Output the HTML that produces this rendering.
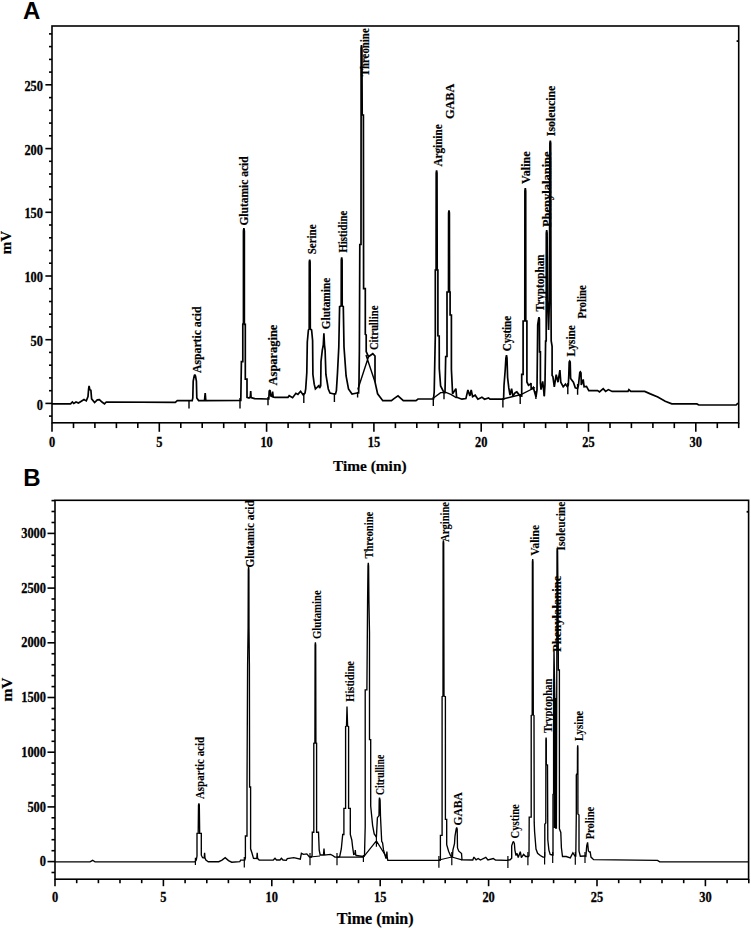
<!DOCTYPE html>
<html><head><meta charset="utf-8"><title>Chromatograms</title>
<style>
html,body{margin:0;padding:0;background:#fff;}
body{width:751px;height:928px;overflow:hidden;font-family:"Liberation Sans",sans-serif;}
svg{display:block;}
</style></head>
<body>
<svg width="751" height="928" viewBox="0 0 751 928">
<rect x="0" y="0" width="751" height="928" fill="#fff"/>
<g stroke="#000" fill="none" stroke-linecap="butt">
<rect x="52" y="26" width="686.7" height="396.8" fill="none" stroke-width="1.6"/>
<line x1="49" y1="416.1" x2="52" y2="416.1" stroke-width="1.6"/>
<line x1="45.4" y1="403.4" x2="52" y2="403.4" stroke-width="1.6"/>
<line x1="49" y1="390.7" x2="52" y2="390.7" stroke-width="1.6"/>
<line x1="49" y1="377.9" x2="52" y2="377.9" stroke-width="1.6"/>
<line x1="49" y1="365.2" x2="52" y2="365.2" stroke-width="1.6"/>
<line x1="49" y1="352.4" x2="52" y2="352.4" stroke-width="1.6"/>
<line x1="45.4" y1="339.7" x2="52" y2="339.7" stroke-width="1.6"/>
<line x1="49" y1="326.9" x2="52" y2="326.9" stroke-width="1.6"/>
<line x1="49" y1="314.2" x2="52" y2="314.2" stroke-width="1.6"/>
<line x1="49" y1="301.5" x2="52" y2="301.5" stroke-width="1.6"/>
<line x1="49" y1="288.7" x2="52" y2="288.7" stroke-width="1.6"/>
<line x1="45.4" y1="276" x2="52" y2="276" stroke-width="1.6"/>
<line x1="49" y1="263.2" x2="52" y2="263.2" stroke-width="1.6"/>
<line x1="49" y1="250.5" x2="52" y2="250.5" stroke-width="1.6"/>
<line x1="49" y1="237.8" x2="52" y2="237.8" stroke-width="1.6"/>
<line x1="49" y1="225" x2="52" y2="225" stroke-width="1.6"/>
<line x1="45.4" y1="212.3" x2="52" y2="212.3" stroke-width="1.6"/>
<line x1="49" y1="199.5" x2="52" y2="199.5" stroke-width="1.6"/>
<line x1="49" y1="186.8" x2="52" y2="186.8" stroke-width="1.6"/>
<line x1="49" y1="174" x2="52" y2="174" stroke-width="1.6"/>
<line x1="49" y1="161.3" x2="52" y2="161.3" stroke-width="1.6"/>
<line x1="45.4" y1="148.6" x2="52" y2="148.6" stroke-width="1.6"/>
<line x1="49" y1="135.8" x2="52" y2="135.8" stroke-width="1.6"/>
<line x1="49" y1="123.1" x2="52" y2="123.1" stroke-width="1.6"/>
<line x1="49" y1="110.3" x2="52" y2="110.3" stroke-width="1.6"/>
<line x1="49" y1="97.6" x2="52" y2="97.6" stroke-width="1.6"/>
<line x1="45.4" y1="84.8" x2="52" y2="84.8" stroke-width="1.6"/>
<line x1="49" y1="72.1" x2="52" y2="72.1" stroke-width="1.6"/>
<line x1="49" y1="59.4" x2="52" y2="59.4" stroke-width="1.6"/>
<line x1="49" y1="46.6" x2="52" y2="46.6" stroke-width="1.6"/>
<line x1="49" y1="33.9" x2="52" y2="33.9" stroke-width="1.6"/>
<text x="43" y="409.5" font-size="14" text-anchor="end" fill="#000" stroke="#000" stroke-width="0.3" font-family="'Liberation Serif', serif" font-weight="bold" textLength="6.2" lengthAdjust="spacingAndGlyphs">0</text>
<text x="43" y="345.8" font-size="14" text-anchor="end" fill="#000" stroke="#000" stroke-width="0.3" font-family="'Liberation Serif', serif" font-weight="bold" textLength="12.4" lengthAdjust="spacingAndGlyphs">50</text>
<text x="43" y="282.1" font-size="14" text-anchor="end" fill="#000" stroke="#000" stroke-width="0.3" font-family="'Liberation Serif', serif" font-weight="bold" textLength="18.6" lengthAdjust="spacingAndGlyphs">100</text>
<text x="43" y="218.4" font-size="14" text-anchor="end" fill="#000" stroke="#000" stroke-width="0.3" font-family="'Liberation Serif', serif" font-weight="bold" textLength="18.6" lengthAdjust="spacingAndGlyphs">150</text>
<text x="43" y="154.7" font-size="14" text-anchor="end" fill="#000" stroke="#000" stroke-width="0.3" font-family="'Liberation Serif', serif" font-weight="bold" textLength="18.6" lengthAdjust="spacingAndGlyphs">200</text>
<text x="43" y="90.9" font-size="14" text-anchor="end" fill="#000" stroke="#000" stroke-width="0.3" font-family="'Liberation Serif', serif" font-weight="bold" textLength="18.6" lengthAdjust="spacingAndGlyphs">250</text>
<line x1="52" y1="422.8" x2="52" y2="431.8" stroke-width="1.6"/>
<line x1="73.5" y1="422.8" x2="73.5" y2="428.1" stroke-width="1.6"/>
<line x1="94.9" y1="422.8" x2="94.9" y2="428.1" stroke-width="1.6"/>
<line x1="116.4" y1="422.8" x2="116.4" y2="428.1" stroke-width="1.6"/>
<line x1="137.8" y1="422.8" x2="137.8" y2="428.1" stroke-width="1.6"/>
<line x1="159.3" y1="422.8" x2="159.3" y2="431.8" stroke-width="1.6"/>
<line x1="180.8" y1="422.8" x2="180.8" y2="428.1" stroke-width="1.6"/>
<line x1="202.2" y1="422.8" x2="202.2" y2="428.1" stroke-width="1.6"/>
<line x1="223.7" y1="422.8" x2="223.7" y2="428.1" stroke-width="1.6"/>
<line x1="245.1" y1="422.8" x2="245.1" y2="428.1" stroke-width="1.6"/>
<line x1="266.6" y1="422.8" x2="266.6" y2="431.8" stroke-width="1.6"/>
<line x1="288.1" y1="422.8" x2="288.1" y2="428.1" stroke-width="1.6"/>
<line x1="309.5" y1="422.8" x2="309.5" y2="428.1" stroke-width="1.6"/>
<line x1="331" y1="422.8" x2="331" y2="428.1" stroke-width="1.6"/>
<line x1="352.4" y1="422.8" x2="352.4" y2="428.1" stroke-width="1.6"/>
<line x1="373.9" y1="422.8" x2="373.9" y2="431.8" stroke-width="1.6"/>
<line x1="395.4" y1="422.8" x2="395.4" y2="428.1" stroke-width="1.6"/>
<line x1="416.8" y1="422.8" x2="416.8" y2="428.1" stroke-width="1.6"/>
<line x1="438.3" y1="422.8" x2="438.3" y2="428.1" stroke-width="1.6"/>
<line x1="459.7" y1="422.8" x2="459.7" y2="428.1" stroke-width="1.6"/>
<line x1="481.2" y1="422.8" x2="481.2" y2="431.8" stroke-width="1.6"/>
<line x1="502.7" y1="422.8" x2="502.7" y2="428.1" stroke-width="1.6"/>
<line x1="524.1" y1="422.8" x2="524.1" y2="428.1" stroke-width="1.6"/>
<line x1="545.6" y1="422.8" x2="545.6" y2="428.1" stroke-width="1.6"/>
<line x1="567" y1="422.8" x2="567" y2="428.1" stroke-width="1.6"/>
<line x1="588.5" y1="422.8" x2="588.5" y2="431.8" stroke-width="1.6"/>
<line x1="610" y1="422.8" x2="610" y2="428.1" stroke-width="1.6"/>
<line x1="631.4" y1="422.8" x2="631.4" y2="428.1" stroke-width="1.6"/>
<line x1="652.9" y1="422.8" x2="652.9" y2="428.1" stroke-width="1.6"/>
<line x1="674.3" y1="422.8" x2="674.3" y2="428.1" stroke-width="1.6"/>
<line x1="695.8" y1="422.8" x2="695.8" y2="431.8" stroke-width="1.6"/>
<line x1="717.3" y1="422.8" x2="717.3" y2="428.1" stroke-width="1.6"/>
<line x1="738.7" y1="422.8" x2="738.7" y2="428.1" stroke-width="1.6"/>
<text x="52" y="447" font-size="14" text-anchor="middle" fill="#000" stroke="#000" stroke-width="0.3" font-family="'Liberation Serif', serif" font-weight="bold" textLength="6.2" lengthAdjust="spacingAndGlyphs">0</text>
<text x="159.3" y="447" font-size="14" text-anchor="middle" fill="#000" stroke="#000" stroke-width="0.3" font-family="'Liberation Serif', serif" font-weight="bold" textLength="6.2" lengthAdjust="spacingAndGlyphs">5</text>
<text x="266.6" y="447" font-size="14" text-anchor="middle" fill="#000" stroke="#000" stroke-width="0.3" font-family="'Liberation Serif', serif" font-weight="bold" textLength="12.4" lengthAdjust="spacingAndGlyphs">10</text>
<text x="373.9" y="447" font-size="14" text-anchor="middle" fill="#000" stroke="#000" stroke-width="0.3" font-family="'Liberation Serif', serif" font-weight="bold" textLength="12.4" lengthAdjust="spacingAndGlyphs">15</text>
<text x="481.2" y="447" font-size="14" text-anchor="middle" fill="#000" stroke="#000" stroke-width="0.3" font-family="'Liberation Serif', serif" font-weight="bold" textLength="12.4" lengthAdjust="spacingAndGlyphs">20</text>
<text x="588.5" y="447" font-size="14" text-anchor="middle" fill="#000" stroke="#000" stroke-width="0.3" font-family="'Liberation Serif', serif" font-weight="bold" textLength="12.4" lengthAdjust="spacingAndGlyphs">25</text>
<text x="695.8" y="447" font-size="14" text-anchor="middle" fill="#000" stroke="#000" stroke-width="0.3" font-family="'Liberation Serif', serif" font-weight="bold" textLength="12.4" lengthAdjust="spacingAndGlyphs">30</text>
<rect x="55" y="500.3" width="693.6" height="378.9" fill="none" stroke-width="1.6"/>
<line x1="51.5" y1="872.5" x2="55" y2="872.5" stroke-width="1.6"/>
<line x1="47.5" y1="861.6" x2="55" y2="861.6" stroke-width="1.6"/>
<line x1="51.5" y1="850.7" x2="55" y2="850.7" stroke-width="1.6"/>
<line x1="51.5" y1="839.7" x2="55" y2="839.7" stroke-width="1.6"/>
<line x1="51.5" y1="828.8" x2="55" y2="828.8" stroke-width="1.6"/>
<line x1="51.5" y1="817.8" x2="55" y2="817.8" stroke-width="1.6"/>
<line x1="47.5" y1="806.9" x2="55" y2="806.9" stroke-width="1.6"/>
<line x1="51.5" y1="796" x2="55" y2="796" stroke-width="1.6"/>
<line x1="51.5" y1="785" x2="55" y2="785" stroke-width="1.6"/>
<line x1="51.5" y1="774.1" x2="55" y2="774.1" stroke-width="1.6"/>
<line x1="51.5" y1="763.1" x2="55" y2="763.1" stroke-width="1.6"/>
<line x1="47.5" y1="752.2" x2="55" y2="752.2" stroke-width="1.6"/>
<line x1="51.5" y1="741.3" x2="55" y2="741.3" stroke-width="1.6"/>
<line x1="51.5" y1="730.3" x2="55" y2="730.3" stroke-width="1.6"/>
<line x1="51.5" y1="719.4" x2="55" y2="719.4" stroke-width="1.6"/>
<line x1="51.5" y1="708.4" x2="55" y2="708.4" stroke-width="1.6"/>
<line x1="47.5" y1="697.5" x2="55" y2="697.5" stroke-width="1.6"/>
<line x1="51.5" y1="686.6" x2="55" y2="686.6" stroke-width="1.6"/>
<line x1="51.5" y1="675.6" x2="55" y2="675.6" stroke-width="1.6"/>
<line x1="51.5" y1="664.7" x2="55" y2="664.7" stroke-width="1.6"/>
<line x1="51.5" y1="653.7" x2="55" y2="653.7" stroke-width="1.6"/>
<line x1="47.5" y1="642.8" x2="55" y2="642.8" stroke-width="1.6"/>
<line x1="51.5" y1="631.9" x2="55" y2="631.9" stroke-width="1.6"/>
<line x1="51.5" y1="620.9" x2="55" y2="620.9" stroke-width="1.6"/>
<line x1="51.5" y1="610" x2="55" y2="610" stroke-width="1.6"/>
<line x1="51.5" y1="599" x2="55" y2="599" stroke-width="1.6"/>
<line x1="47.5" y1="588.1" x2="55" y2="588.1" stroke-width="1.6"/>
<line x1="51.5" y1="577.2" x2="55" y2="577.2" stroke-width="1.6"/>
<line x1="51.5" y1="566.2" x2="55" y2="566.2" stroke-width="1.6"/>
<line x1="51.5" y1="555.3" x2="55" y2="555.3" stroke-width="1.6"/>
<line x1="51.5" y1="544.3" x2="55" y2="544.3" stroke-width="1.6"/>
<line x1="47.5" y1="533.4" x2="55" y2="533.4" stroke-width="1.6"/>
<line x1="51.5" y1="522.5" x2="55" y2="522.5" stroke-width="1.6"/>
<line x1="51.5" y1="511.5" x2="55" y2="511.5" stroke-width="1.6"/>
<line x1="51.5" y1="500.6" x2="55" y2="500.6" stroke-width="1.6"/>
<text x="46" y="866.2" font-size="14" text-anchor="end" fill="#000" stroke="#000" stroke-width="0.3" font-family="'Liberation Serif', serif" font-weight="bold" textLength="6.2" lengthAdjust="spacingAndGlyphs">0</text>
<text x="46" y="811.5" font-size="14" text-anchor="end" fill="#000" stroke="#000" stroke-width="0.3" font-family="'Liberation Serif', serif" font-weight="bold" textLength="18.6" lengthAdjust="spacingAndGlyphs">500</text>
<text x="46" y="756.8" font-size="14" text-anchor="end" fill="#000" stroke="#000" stroke-width="0.3" font-family="'Liberation Serif', serif" font-weight="bold" textLength="24.8" lengthAdjust="spacingAndGlyphs">1000</text>
<text x="46" y="702.1" font-size="14" text-anchor="end" fill="#000" stroke="#000" stroke-width="0.3" font-family="'Liberation Serif', serif" font-weight="bold" textLength="24.8" lengthAdjust="spacingAndGlyphs">1500</text>
<text x="46" y="647.4" font-size="14" text-anchor="end" fill="#000" stroke="#000" stroke-width="0.3" font-family="'Liberation Serif', serif" font-weight="bold" textLength="24.8" lengthAdjust="spacingAndGlyphs">2000</text>
<text x="46" y="592.7" font-size="14" text-anchor="end" fill="#000" stroke="#000" stroke-width="0.3" font-family="'Liberation Serif', serif" font-weight="bold" textLength="24.8" lengthAdjust="spacingAndGlyphs">2500</text>
<text x="46" y="538" font-size="14" text-anchor="end" fill="#000" stroke="#000" stroke-width="0.3" font-family="'Liberation Serif', serif" font-weight="bold" textLength="24.8" lengthAdjust="spacingAndGlyphs">3000</text>
<line x1="55" y1="879.2" x2="55" y2="886.2" stroke-width="1.6"/>
<line x1="76.7" y1="879.2" x2="76.7" y2="883.2" stroke-width="1.6"/>
<line x1="98.4" y1="879.2" x2="98.4" y2="883.2" stroke-width="1.6"/>
<line x1="120" y1="879.2" x2="120" y2="883.2" stroke-width="1.6"/>
<line x1="141.7" y1="879.2" x2="141.7" y2="883.2" stroke-width="1.6"/>
<line x1="163.4" y1="879.2" x2="163.4" y2="886.2" stroke-width="1.6"/>
<line x1="185.1" y1="879.2" x2="185.1" y2="883.2" stroke-width="1.6"/>
<line x1="206.8" y1="879.2" x2="206.8" y2="883.2" stroke-width="1.6"/>
<line x1="228.4" y1="879.2" x2="228.4" y2="883.2" stroke-width="1.6"/>
<line x1="250.1" y1="879.2" x2="250.1" y2="883.2" stroke-width="1.6"/>
<line x1="271.8" y1="879.2" x2="271.8" y2="886.2" stroke-width="1.6"/>
<line x1="293.5" y1="879.2" x2="293.5" y2="883.2" stroke-width="1.6"/>
<line x1="315.2" y1="879.2" x2="315.2" y2="883.2" stroke-width="1.6"/>
<line x1="336.8" y1="879.2" x2="336.8" y2="883.2" stroke-width="1.6"/>
<line x1="358.5" y1="879.2" x2="358.5" y2="883.2" stroke-width="1.6"/>
<line x1="380.2" y1="879.2" x2="380.2" y2="886.2" stroke-width="1.6"/>
<line x1="401.9" y1="879.2" x2="401.9" y2="883.2" stroke-width="1.6"/>
<line x1="423.6" y1="879.2" x2="423.6" y2="883.2" stroke-width="1.6"/>
<line x1="445.2" y1="879.2" x2="445.2" y2="883.2" stroke-width="1.6"/>
<line x1="466.9" y1="879.2" x2="466.9" y2="883.2" stroke-width="1.6"/>
<line x1="488.6" y1="879.2" x2="488.6" y2="886.2" stroke-width="1.6"/>
<line x1="510.3" y1="879.2" x2="510.3" y2="883.2" stroke-width="1.6"/>
<line x1="532" y1="879.2" x2="532" y2="883.2" stroke-width="1.6"/>
<line x1="553.6" y1="879.2" x2="553.6" y2="883.2" stroke-width="1.6"/>
<line x1="575.3" y1="879.2" x2="575.3" y2="883.2" stroke-width="1.6"/>
<line x1="597" y1="879.2" x2="597" y2="886.2" stroke-width="1.6"/>
<line x1="618.7" y1="879.2" x2="618.7" y2="883.2" stroke-width="1.6"/>
<line x1="640.4" y1="879.2" x2="640.4" y2="883.2" stroke-width="1.6"/>
<line x1="662" y1="879.2" x2="662" y2="883.2" stroke-width="1.6"/>
<line x1="683.7" y1="879.2" x2="683.7" y2="883.2" stroke-width="1.6"/>
<line x1="705.4" y1="879.2" x2="705.4" y2="886.2" stroke-width="1.6"/>
<line x1="727.1" y1="879.2" x2="727.1" y2="883.2" stroke-width="1.6"/>
<line x1="748.8" y1="879.2" x2="748.8" y2="883.2" stroke-width="1.6"/>
<text x="55" y="902" font-size="14" text-anchor="middle" fill="#000" stroke="#000" stroke-width="0.3" font-family="'Liberation Serif', serif" font-weight="bold" textLength="6.2" lengthAdjust="spacingAndGlyphs">0</text>
<text x="163.4" y="902" font-size="14" text-anchor="middle" fill="#000" stroke="#000" stroke-width="0.3" font-family="'Liberation Serif', serif" font-weight="bold" textLength="6.2" lengthAdjust="spacingAndGlyphs">5</text>
<text x="271.8" y="902" font-size="14" text-anchor="middle" fill="#000" stroke="#000" stroke-width="0.3" font-family="'Liberation Serif', serif" font-weight="bold" textLength="12.4" lengthAdjust="spacingAndGlyphs">10</text>
<text x="380.2" y="902" font-size="14" text-anchor="middle" fill="#000" stroke="#000" stroke-width="0.3" font-family="'Liberation Serif', serif" font-weight="bold" textLength="12.4" lengthAdjust="spacingAndGlyphs">15</text>
<text x="488.6" y="902" font-size="14" text-anchor="middle" fill="#000" stroke="#000" stroke-width="0.3" font-family="'Liberation Serif', serif" font-weight="bold" textLength="12.4" lengthAdjust="spacingAndGlyphs">20</text>
<text x="597" y="902" font-size="14" text-anchor="middle" fill="#000" stroke="#000" stroke-width="0.3" font-family="'Liberation Serif', serif" font-weight="bold" textLength="12.4" lengthAdjust="spacingAndGlyphs">25</text>
<text x="705.4" y="902" font-size="14" text-anchor="middle" fill="#000" stroke="#000" stroke-width="0.3" font-family="'Liberation Serif', serif" font-weight="bold" textLength="12.4" lengthAdjust="spacingAndGlyphs">30</text>
</g>
<path d="M52,403.9 L70.6,403.9 L72.4,402 L73.8,403.5 L76,402 L78.4,403 L81.3,401.2 L84,399.6 L86.3,400.9 L88,396.6 L88.6,389 L89.1,385.8 L89.8,389.7 L90.9,390.2 L91.6,398.8 L94.6,402.5 L97.3,399.8 L99.4,399.6 L102,402 L104.5,403.9 L106.3,402 L175.3,402.3 L177.3,400.6 L192.2,400.6 L192.8,398 L193.2,381 L194.2,376 L194.8,374.6 L195.5,376 L196.4,381 L196.8,398 L198.6,400.6 L204.5,400.6 L205.2,393 L205.8,400.6 L240.8,400.5 L241.4,361.7 L242.8,361.7 L242.8,324.3 L243.45,323 L243.45,231 L243.9,228.2 L244.35,231 L244.35,323 L244.6,324.3 L245.3,324.3 L245.3,379.2 L247,379.2 L247,397.3 L249,398 L250.3,397 L250.7,391 L251.1,397.5 L254.6,398.6 L267.3,399 L268.8,399 L269.2,391 L270,390 L270.8,396 L272,396.5 L272.6,391.6 L273.2,397 L275,397.3 L288,397.3 L289.2,395.7 L292.6,397.7 L295.9,393.3 L297.9,394.4 L300.6,391.3 L303.2,394.9 L305,393 L305.7,389 L306.8,372.8 L307.3,342 L308.4,330 L309.2,329 L309.3,262 L309.7,259.7 L310.1,262 L310.3,329 L311.6,330 L312.6,340.5 L312.9,374.5 L314.2,384.2 L315.4,389 L316.5,388 L318.3,386 L318.8,385.6 L319.6,388 L320.4,386.5 L320.7,385.8 L321,361.5 L322.3,350.2 L323.3,345 L323.9,333.2 L324.5,345 L325.1,350.2 L325.9,374.5 L328.3,389 L330,393 L334,394 L335.5,394 L336.4,390.6 L337.5,372.8 L338.8,347 L339.6,306.6 L341.2,306 L341.3,260 L341.7,257.3 L342.1,260 L342.2,306 L343.3,306.6 L344,347 L346.1,376 L348.5,389 L352,394 L357,393 L358.6,393 L359,382 L359.4,350 L359.8,244.5 L361,244.5 L361.1,115 L361.1,48 L361.5,45 L361.9,48 L362.2,115 L363.4,115 L363.6,288.6 L365.3,288.6 L365.3,334.3 L366.2,335 L366.2,351.6 L368.5,356.7 L372.8,353.7 L375,356 L375,382 L377.6,393.8 L382.8,400.7 L391.4,400.7 L394,398.6 L398,395.9 L403.3,400.6 L416,400.6 L418,399 L433.5,399 L434.2,392 L435.3,335.8 L435.3,270 L436.1,270 L436.2,173 L436.6,170.3 L437,173 L437.2,270 L437.9,270 L437.9,335.8 L439.2,336 L439.3,368.6 L440.6,386 L444,392.6 L445,392.5 L445.7,356.5 L447,356.5 L447,292 L448.5,292 L448.6,213 L449,210.4 L449.4,213 L449.5,292 L450.1,292 L450.1,315 L451.4,315 L451.4,369.3 L452.6,393.9 L455.9,388.6 L456.6,397.2 L461.9,399.2 L465.9,398.6 L467.9,390 L469.9,395.9 L471.2,390 L472.6,396.6 L475.2,395.2 L477.9,399.2 L481.9,397.2 L484.5,399.2 L488.5,397.9 L490,399.1 L503.6,399.1 L504,385.5 L505.2,370 L505.9,358 L506.5,355.2 L507,358 L507.6,377.5 L508.8,387.9 L510,395.1 L511.6,388.7 L512.8,395.9 L515.2,392.7 L516.8,391.9 L520,395.9 L521.7,396 L521.7,374.4 L523.1,374.4 L523.1,321 L524.8,321 L524.9,191 L525.3,188 L525.7,191 L525.8,321 L526.9,321 L526.9,382 L528.5,385.2 L530.6,384 L531,383 L531.2,389.5 L533.3,387.4 L536,397 L537,390 L537.7,324.8 L538.6,319 L539,317.3 L539.4,319 L539.6,351.8 L540.4,351.8 L540.4,383 L541,389.6 L542.7,381.3 L544.3,396.2 L545,384 L545.6,341 L546.2,341 L546.3,233 L546.7,230.2 L547.1,233 L547.5,300 L548.6,330 L549.4,300 L549.9,143 L550.3,140.6 L550.7,143 L551,300 L551.2,341 L552.1,346.4 L552.1,375.5 L552.9,376.6 L554.3,386.8 L556.2,374.7 L558,382.2 L559.9,370.1 L560.8,382.2 L563.2,386.8 L565.5,384.1 L567.2,386.5 L567.8,386 L568.3,385 L568.8,375 L569.2,362 L569.7,361.2 L570.2,362 L570.6,378.5 L573.4,382.2 L575.3,387.8 L577.6,388.5 L578.5,385 L579,380 L579.8,372.5 L580.4,371.9 L581,373 L581.3,385 L583.2,379.4 L584.1,386.8 L586.5,386.4 L588.8,390.6 L597.6,390.6 L599.5,392 L603.2,388.7 L605.6,391.4 L608.4,389.6 L612.1,391.4 L628,391.4 L628.9,389.6 L630.8,391.4 L644.7,391.4 L650.3,393.9 L657.8,397 L665.2,401.3 L671.8,403.9 L696.9,403.9 L698.8,405 L736.1,405 L738,403.2" fill="none" stroke="#000" stroke-width="1.7" stroke-linejoin="miter" stroke-miterlimit="2"/>
<path d="M357.8,389.5 L368.5,356.7 M366,355 L375,382 M433.5,398 L440.6,392.6 L446,392.4 L451.3,394.6 L456.6,397.9 M503,399 L513,396.5 L521,394.6 L535,387.5 M189,400 L189,408.6 M240,398 L240,408.4 M268,397 L268,405.3 M303.8,393 L303.8,403 M334.4,393 L334.4,402 M357.6,392 L357.6,397.5 M433.3,397 L433.3,405.9 M444,392 L444,399.2 M502.9,398 L502.9,407.5 M520.2,394 L520.2,403.9 M535.9,391 L535.9,399 M544.3,388 L544.3,396.2 M567.8,383 L567.8,394.3 M577.6,384 L577.6,394.8" fill="none" stroke="#000" stroke-width="1.4"/>
<path d="M55,861.8 L90,861.8 L92.6,860.3 L95,861.8 L195,861.8 L196.3,860 L197,856 L197,833.4 L198.2,833.4 L198.5,805 L198.9,803.5 L199.3,805 L199.7,833.4 L201.3,833.4 L201.3,855.2 L202.6,857.7 L204.2,858 L204.6,852.8 L205,858 L205.9,860.1 L208.3,861.7 L218.8,861.7 L222,860.1 L225.2,857.7 L228.5,860.6 L231.7,862.2 L239.8,861.7 L240.6,860.1 L244.8,860 L245.4,858 L245.4,836 L247,836 L247,787 L247.6,665 L248.1,628 L248.3,570 L248.6,567 L248.9,570 L249,628 L249.4,665 L249.6,787 L250.6,787 L250.6,848.8 L251.9,852.8 L253.5,858.4 L256.8,858.5 L257.2,852.8 L257.6,858.5 L259.2,860.1 L273.3,860 L275,858.3 L276.5,860 L280,860 L281.4,858.3 L283,860 L286.3,860.4 L287.3,858.7 L293.8,857.6 L300.3,859.2 L301.4,853.3 L303.5,854.4 L306.8,853.9 L309.5,857 L311.5,857 L312.1,855.5 L312.3,832.2 L313.8,832.2 L313.8,743.2 L314.9,743 L315.1,645 L315.4,642.4 L315.7,645 L315.9,743 L316.6,743.2 L316.6,832.2 L318.5,832.2 L319.2,850.1 L320.2,855 L323.5,855 L324,848.5 L324.5,855 L326.2,854.9 L330.5,854.4 L332.7,855.5 L334.9,857.1 L338.5,857.1 L339.7,856.5 L341.3,849 L342.7,834.5 L343.9,834.5 L343.9,808.4 L345.6,808.4 L345.6,726.6 L346.5,726 L347,706.4 L347.6,726 L348.6,726.6 L348.6,808.4 L350.3,808.4 L350.3,834.5 L351.8,840 L352.6,846.8 L353.7,854.4 L355,854 L355.3,850.1 L355.7,855 L356.4,855.5 L363,856.5 L364.2,856 L364.5,855.5 L365.2,826.4 L365.2,689.8 L366.9,689.8 L367.6,600 L368,566 L368.3,562.9 L368.6,566 L368.9,600 L369.5,632.8 L369.5,739.6 L370.7,739.6 L370.7,806 L372.6,825.3 L374.2,833.9 L376.4,837.1 L377.4,817.7 L379,815.6 L379.2,800 L379.5,797.7 L380.1,800 L380.5,816.7 L381.7,841.3 L382.6,843 L383.5,849.9 L386,858.6 L386.5,856.8 L386.9,851.6 L387.3,858 L387.8,860.3 L440.2,860.3 L440.4,858.7 L440.4,835.3 L442.1,835.3 L442.1,696.7 L443,696 L443.1,543 L443.4,540.2 L443.7,543 L444,696 L445.4,696.7 L445.4,819.4 L446.7,819.4 L446.7,844.7 L448.6,851.2 L450.7,856 L452.5,856.5 L452.9,850.1 L454.5,843.6 L455,836.1 L456.2,829 L456.7,827.4 L457.2,829 L457.5,847.9 L458.8,851.2 L461,853 L461.5,853.3 L462,859.8 L472.8,860 L473.9,857.1 L476.1,859.8 L478.2,858.5 L480.4,860 L485.8,857.4 L487.9,860 L493.3,858.5 L495.5,860 L506.9,860.3 L508.4,860 L510.1,859.8 L511.7,858.2 L511.7,845.8 L512.8,842.5 L513.5,841.4 L514.4,843.6 L514.9,850.1 L516,855.5 L517.1,853.3 L518.2,857.6 L520.3,851.7 L521.4,857.6 L523.6,854.4 L525.7,856.5 L528.6,856.5 L529,855.5 L529.2,817.1 L531.2,817.1 L531.2,715.5 L532.2,715 L532.4,562 L532.7,559.1 L533,562 L533.3,715 L534,715.5 L534.2,822.4 L534.6,831.8 L536,849 L537.6,853.3 L540.3,855.5 L543,857.1 L544.6,857 L544.8,855.5 L544.8,824.2 L545.8,823 L545.9,740 L546.1,737.5 L546.3,740 L546.3,764.5 L547.5,765 L547.8,839.7 L548.9,850.1 L550.2,854.4 L552.3,855 L553,855 L553,855 L553,794.4 L553.6,794 L553.6,697 L554,650.3 L554.8,697 L555.6,828 L556.4,828 L556.8,670 L557,551 L557.3,548 L557.6,551 L558,600 L558.4,670 L559.4,670 L559.4,828.8 L560.8,832.4 L561.4,847.8 L562.5,856.5 L566.2,856.5 L570.3,857.9 L572.9,852.8 L575,856 L575.8,856 L576.3,814 L576.3,775 L577.4,773 L577.5,748 L577.7,745.4 L577.9,748 L577.9,814 L579,815 L579,851 L580.3,856.2 L584.5,856 L585.4,856 L585.9,856.2 L586.7,845.9 L587.6,842.4 L588.4,851 L589.5,852 L590.2,851.9 L591,857.1 L593.6,859.7 L657.5,860.4 L659.7,861.9 L748.5,861.9" fill="none" stroke="#000" stroke-width="1.35" stroke-linejoin="miter" stroke-miterlimit="2"/>
<path d="M337,857.1 L363.4,857.1 M363.4,857.1 L376.4,840.9 L386.1,856.5 M438.9,860 L451.8,857 L462,859.8 M310,857 L320,856 M195.4,857.7 L195.4,865 M244.3,857 L244.3,867.4 M310,853 L310,865.2 M337,853 L337,865.2 M363.4,855 L363.4,861.9 M376.4,835 L376.4,846.8 M438.9,856 L438.9,867.7 M451.8,852 L451.8,865.2 M507.9,856 L507.9,867.9 M527.9,852 L527.9,865.2 M544.6,852 L544.6,864.6 M552.7,852 L552.7,863 M575.3,852 L575.3,864.8 M585,852 L585,863.1" fill="none" stroke="#000" stroke-width="1.2"/>
<rect x="553.4" y="698" width="3.6" height="130" fill="#000"/>
<rect x="736.6" y="40.2" width="2" height="1.8" fill="#000"/>
<rect x="746.6" y="510.9" width="2" height="1.8" fill="#000"/>
<g font-family="'Liberation Serif', serif" font-weight="bold" fill="#000" stroke="#000" stroke-width="0.2">
<text transform="translate(201.2,372.9) rotate(-90)" font-size="12" textLength="66.5" lengthAdjust="spacingAndGlyphs">Aspartic acid</text>
<text transform="translate(248.1,225.6) rotate(-90)" font-size="12" textLength="69.3" lengthAdjust="spacingAndGlyphs">Glutamic acid</text>
<text transform="translate(276.6,385.4) rotate(-90)" font-size="12" textLength="60.7" lengthAdjust="spacingAndGlyphs">Asparagine</text>
<text transform="translate(315.7,254.2) rotate(-90)" font-size="12" textLength="29.7" lengthAdjust="spacingAndGlyphs">Serine</text>
<text transform="translate(330.2,329.3) rotate(-90)" font-size="12" textLength="51.5" lengthAdjust="spacingAndGlyphs">Glutamine</text>
<text transform="translate(347.2,252.5) rotate(-90)" font-size="12" textLength="41.8" lengthAdjust="spacingAndGlyphs">Histidine</text>
<text transform="translate(368.7,76.3) rotate(-90)" font-size="12" textLength="48" lengthAdjust="spacingAndGlyphs">Threonine</text>
<text transform="translate(377.9,350.1) rotate(-90)" font-size="12" textLength="44.5" lengthAdjust="spacingAndGlyphs">Citrulline</text>
<text transform="translate(441.5,166.5) rotate(-90)" font-size="12" textLength="42.1" lengthAdjust="spacingAndGlyphs">Arginine</text>
<text transform="translate(453.9,119) rotate(-90)" font-size="12" textLength="35.3" lengthAdjust="spacingAndGlyphs">GABA</text>
<text transform="translate(511.4,351.3) rotate(-90)" font-size="12" textLength="35.4" lengthAdjust="spacingAndGlyphs">Cystine</text>
<text transform="translate(529.7,183.9) rotate(-90)" font-size="12" textLength="32.5" lengthAdjust="spacingAndGlyphs">Valine</text>
<text transform="translate(544.2,311.4) rotate(-90)" font-size="12" textLength="56.9" lengthAdjust="spacingAndGlyphs">Tryptophan</text>
<text transform="translate(551.3,227) rotate(-90)" font-size="12" textLength="75.6" lengthAdjust="spacingAndGlyphs">Phenylalanine</text>
<text transform="translate(555.3,136.2) rotate(-90)" font-size="12" textLength="50.5" lengthAdjust="spacingAndGlyphs">Isoleucine</text>
<text transform="translate(574.5,356.5) rotate(-90)" font-size="12" textLength="31.4" lengthAdjust="spacingAndGlyphs">Lysine</text>
<text transform="translate(586.3,318.6) rotate(-90)" font-size="12" textLength="33.4" lengthAdjust="spacingAndGlyphs">Proline</text>
<g stroke-width="0.12">
<text transform="translate(204.1,799) rotate(-90)" font-size="12" textLength="62" lengthAdjust="spacingAndGlyphs">Aspartic acid</text>
<text transform="translate(253.5,567.4) rotate(-90)" font-size="12" textLength="67" lengthAdjust="spacingAndGlyphs">Glutamic acid</text>
<text transform="translate(320.8,639.1) rotate(-90)" font-size="12" textLength="48.8" lengthAdjust="spacingAndGlyphs">Glutamine</text>
<text transform="translate(353.9,701.7) rotate(-90)" font-size="12" textLength="40.6" lengthAdjust="spacingAndGlyphs">Histidine</text>
<text transform="translate(372.8,558.6) rotate(-90)" font-size="12" textLength="46.9" lengthAdjust="spacingAndGlyphs">Threonine</text>
<text transform="translate(384.2,795) rotate(-90)" font-size="12" textLength="40.2" lengthAdjust="spacingAndGlyphs">Citrulline</text>
<text transform="translate(449.1,541.7) rotate(-90)" font-size="12" textLength="39.6" lengthAdjust="spacingAndGlyphs">Arginine</text>
<text transform="translate(462.1,825.6) rotate(-90)" font-size="12" textLength="33.5" lengthAdjust="spacingAndGlyphs">GABA</text>
<text transform="translate(519.2,838.5) rotate(-90)" font-size="12" textLength="34.3" lengthAdjust="spacingAndGlyphs">Cystine</text>
<text transform="translate(538.5,555.8) rotate(-90)" font-size="12" textLength="30.8" lengthAdjust="spacingAndGlyphs">Valine</text>
<text transform="translate(552.2,733) rotate(-90)" font-size="12" textLength="54.4" lengthAdjust="spacingAndGlyphs">Tryptophan</text>
<text transform="translate(560.7,652) rotate(-90)" font-size="12" textLength="76.3" lengthAdjust="spacingAndGlyphs">Phenylalanine</text>
<text transform="translate(565.2,550.5) rotate(-90)" font-size="12" textLength="48.7" lengthAdjust="spacingAndGlyphs">Isoleucine</text>
<text transform="translate(583.4,741.1) rotate(-90)" font-size="12" textLength="30.2" lengthAdjust="spacingAndGlyphs">Lysine</text>
<text transform="translate(593.7,839.3) rotate(-90)" font-size="12" textLength="32.5" lengthAdjust="spacingAndGlyphs">Proline</text>
</g>
<text x="369.8" y="470.9" font-size="15" text-anchor="middle" textLength="73.5" lengthAdjust="spacingAndGlyphs">Time (min)</text>
<text x="375.2" y="923.9" font-size="16" text-anchor="middle" textLength="76.9" lengthAdjust="spacingAndGlyphs">Time (min)</text>
<text transform="translate(11.3,242.6) rotate(-90)" font-size="15" text-anchor="middle">mV</text>
<text transform="translate(11.8,689.5) rotate(-90)" font-size="15.5" text-anchor="middle">mV</text>
</g>
<g font-family="'Liberation Sans', sans-serif" font-weight="bold" fill="#000">
<text x="23" y="18.9" font-size="24">A</text>
<text x="23.3" y="485.6" font-size="24">B</text>
</g>
</svg>
</body></html>
